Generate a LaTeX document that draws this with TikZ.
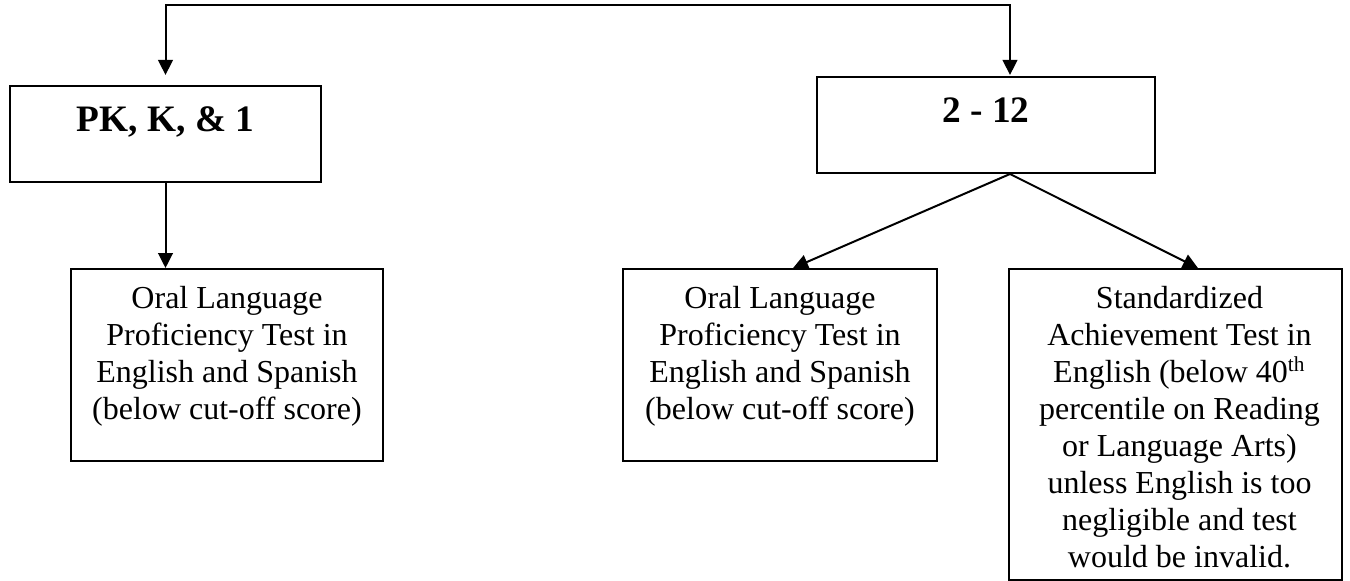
\documentclass[tikz,border=0pt]{standalone}
\usepackage{fontspec}
\setmainfont{Liberation Serif}
\usetikzlibrary{arrows.meta,calc}

\tikzset{
  box/.style={draw, line width=0.75pt, rectangle, inner sep=0pt},
  conn/.style={line width=0.75pt},
  head/.tip={Triangle[length=5.6pt,width=5.5pt]},
  tip/.style={-head},
  titletext/.style={font=\fontsize{14}{16}\selectfont\bfseries, inner sep=0pt},
  bodytext/.style={font=\fontsize{12}{13.875}\selectfont, align=center, inner sep=0pt, anchor=north}
}

\begin{document}
\begin{tikzpicture}[x=0.375pt, y=-0.375pt]
  \useasboundingbox (0,0) rectangle (1350,581);

  % grade-band boxes
  \node[box, minimum width={311*0.375pt}, minimum height={96*0.375pt}] (pk) at (165.5,134) {};
  \node[box, minimum width={338*0.375pt}, minimum height={96*0.375pt}] (g212) at (986,125) {};

  % test boxes
  \node[box, minimum width={312.5*0.375pt}, minimum height={192*0.375pt}] (olpA) at (227,365) {};
  \node[box, minimum width={314*0.375pt}, minimum height={192*0.375pt}] (olpB) at (780,365) {};
  \node[box, minimum width={333*0.375pt}, minimum height={311*0.375pt}] (sat) at (1175.5,424.5) {};

  % titles
  \node[titletext, anchor=base] (pkT) at ([yshift=-17.6pt]pk.north) {PK, K, \& 1};
  \node[titletext, anchor=base] (g212T) at ([yshift=-17.6pt]g212.north) {2 - 12};

  % box texts
  \node[bodytext] (olpAT) at ([yshift=-5.4pt]olpA.north) {\strut Oral Language\\Proficiency Test in\\English and Spanish\\(below cut-off score)};
  \node[bodytext] (olpBT) at ([yshift=-5.4pt]olpB.north) {\strut Oral Language\\Proficiency Test in\\English and Spanish\\(below cut-off score)};
  \node[bodytext] (satT) at ([xshift=1.5pt,yshift=-5.4pt]sat.north) {\strut Standardized\\Achievement Test in\\English (below 40\textsuperscript{th}\\percentile on Reading\\or Language Arts)\\unless English is too\\negligible and test\\would be invalid.};

  % connectors
  \coordinate (top) at (0,5);
  \coordinate (gin) at ([xshift=9pt,yshift=0.4pt]g212.north);
  \coordinate (pkin) at (pk.north |- gin);
  \coordinate (gout) at ([xshift=9pt]g212.south);
  \draw[conn, head-head]
    (pkin) -- (pkin |- top) -- (gin |- top) -- (gin);
  \draw[conn, tip] (pk.south) -- (pk.south |- olpA.north);
  \draw[conn, tip] (gout) -- ([xshift=4.9pt]olpB.north);
  \draw[conn, tip] (gout) -- ([xshift=8.4pt]sat.north);
\end{tikzpicture}
\end{document}
